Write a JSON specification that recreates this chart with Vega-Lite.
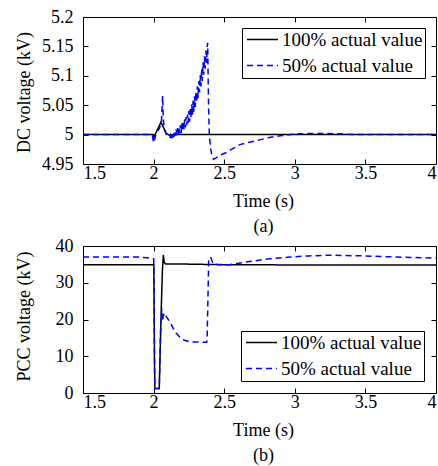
{
  "$schema": "https://vega.github.io/schema/vega-lite/v6.json",
  "padding": {"left": 14, "top": 7, "right": 0, "bottom": 0},
  "config": {
    "font": "Liberation Serif",
    "view": {"stroke": "black", "strokeWidth": 1},
    "axis": {
      "labelFont": "Liberation Serif", "labelFontSize": 18, "labelColor": "black",
      "titleFont": "Liberation Serif", "titleFontSize": 18, "titleFontWeight": "normal", "titleColor": "black",
      "grid": false, "domain": false, "tickColor": "black", "tickSize": -5, "tickWidth": 1,
      "labelExpr": "'' + datum.value"
    },
    "legend": {
      "labelFont": "Liberation Serif", "labelFontSize": 19, "labelColor": "black",
      "strokeColor": "black", "fillColor": "white", "padding": 2, "rowPadding": 6,
      "symbolType": "M-3.1,0H3.1", "symbolSize": 100, "symbolStrokeWidth": 1.5,
      "symbolOffset": 9, "labelOffset": 10, "cornerRadius": 0
    },
    "concat": {"spacing": 0}
  },
  "datasets": {
    "dc": [
      {"t": 1.5, "v": 5.0, "s": "100% actual value"},
      {"t": 1.75, "v": 5.0, "s": "100% actual value"},
      {"t": 1.998, "v": 5.0, "s": "100% actual value"},
      {"t": 2.002, "v": 4.995, "s": "100% actual value"},
      {"t": 2.01, "v": 5.0, "s": "100% actual value"},
      {"t": 2.03, "v": 5.01, "s": "100% actual value"},
      {"t": 2.052, "v": 5.021, "s": "100% actual value"},
      {"t": 2.07, "v": 5.012, "s": "100% actual value"},
      {"t": 2.09, "v": 5.002, "s": "100% actual value"},
      {"t": 2.11, "v": 4.999, "s": "100% actual value"},
      {"t": 2.15, "v": 5.0, "s": "100% actual value"},
      {"t": 2.5, "v": 5.0, "s": "100% actual value"},
      {"t": 3.0, "v": 5.0, "s": "100% actual value"},
      {"t": 3.5, "v": 5.0, "s": "100% actual value"},
      {"t": 4.0, "v": 5.0, "s": "100% actual value"},
      {"t": 1.5, "v": 5.0, "s": "50% actual value"},
      {"t": 1.75, "v": 5.0, "s": "50% actual value"},
      {"t": 1.99, "v": 5.0, "s": "50% actual value"},
      {"t": 2.0, "v": 4.986, "s": "50% actual value"},
      {"t": 2.005, "v": 4.99, "s": "50% actual value"},
      {"t": 2.02, "v": 5.003, "s": "50% actual value"},
      {"t": 2.04, "v": 5.01, "s": "50% actual value"},
      {"t": 2.055, "v": 5.02, "s": "50% actual value"},
      {"t": 2.06, "v": 5.045, "s": "50% actual value"},
      {"t": 2.064, "v": 5.066, "s": "50% actual value"},
      {"t": 2.068, "v": 5.03, "s": "50% actual value"},
      {"t": 2.075, "v": 5.01, "s": "50% actual value"},
      {"t": 2.09, "v": 5.0, "s": "50% actual value"},
      {"t": 2.105, "v": 4.995, "s": "50% actual value"},
      {"t": 2.115, "v": 4.995, "s": "50% actual value"},
      {"t": 2.12, "v": 4.999, "s": "50% actual value"},
      {"t": 2.125, "v": 4.994, "s": "50% actual value"},
      {"t": 2.13, "v": 5.001, "s": "50% actual value"},
      {"t": 2.135, "v": 4.994, "s": "50% actual value"},
      {"t": 2.14, "v": 5.003, "s": "50% actual value"},
      {"t": 2.145, "v": 4.996, "s": "50% actual value"},
      {"t": 2.15, "v": 5.005, "s": "50% actual value"},
      {"t": 2.155, "v": 4.998, "s": "50% actual value"},
      {"t": 2.16, "v": 5.009, "s": "50% actual value"},
      {"t": 2.165, "v": 4.998, "s": "50% actual value"},
      {"t": 2.17, "v": 5.011, "s": "50% actual value"},
      {"t": 2.175, "v": 5.0, "s": "50% actual value"},
      {"t": 2.18, "v": 5.013, "s": "50% actual value"},
      {"t": 2.185, "v": 5.002, "s": "50% actual value"},
      {"t": 2.19, "v": 5.016, "s": "50% actual value"},
      {"t": 2.195, "v": 5.003, "s": "50% actual value"},
      {"t": 2.2, "v": 5.019, "s": "50% actual value"},
      {"t": 2.205, "v": 5.006, "s": "50% actual value"},
      {"t": 2.21, "v": 5.022, "s": "50% actual value"},
      {"t": 2.215, "v": 5.009, "s": "50% actual value"},
      {"t": 2.22, "v": 5.026, "s": "50% actual value"},
      {"t": 2.225, "v": 5.012, "s": "50% actual value"},
      {"t": 2.23, "v": 5.03, "s": "50% actual value"},
      {"t": 2.235, "v": 5.016, "s": "50% actual value"},
      {"t": 2.24, "v": 5.034, "s": "50% actual value"},
      {"t": 2.245, "v": 5.02, "s": "50% actual value"},
      {"t": 2.25, "v": 5.04, "s": "50% actual value"},
      {"t": 2.255, "v": 5.022, "s": "50% actual value"},
      {"t": 2.26, "v": 5.045, "s": "50% actual value"},
      {"t": 2.265, "v": 5.028, "s": "50% actual value"},
      {"t": 2.27, "v": 5.051, "s": "50% actual value"},
      {"t": 2.275, "v": 5.034, "s": "50% actual value"},
      {"t": 2.28, "v": 5.058, "s": "50% actual value"},
      {"t": 2.285, "v": 5.039, "s": "50% actual value"},
      {"t": 2.29, "v": 5.065, "s": "50% actual value"},
      {"t": 2.295, "v": 5.047, "s": "50% actual value"},
      {"t": 2.3, "v": 5.073, "s": "50% actual value"},
      {"t": 2.305, "v": 5.055, "s": "50% actual value"},
      {"t": 2.31, "v": 5.082, "s": "50% actual value"},
      {"t": 2.315, "v": 5.062, "s": "50% actual value"},
      {"t": 2.32, "v": 5.091, "s": "50% actual value"},
      {"t": 2.325, "v": 5.072, "s": "50% actual value"},
      {"t": 2.33, "v": 5.101, "s": "50% actual value"},
      {"t": 2.335, "v": 5.082, "s": "50% actual value"},
      {"t": 2.34, "v": 5.112, "s": "50% actual value"},
      {"t": 2.345, "v": 5.091, "s": "50% actual value"},
      {"t": 2.35, "v": 5.123, "s": "50% actual value"},
      {"t": 2.355, "v": 5.102, "s": "50% actual value"},
      {"t": 2.36, "v": 5.133, "s": "50% actual value"},
      {"t": 2.365, "v": 5.112, "s": "50% actual value"},
      {"t": 2.37, "v": 5.143, "s": "50% actual value"},
      {"t": 2.375, "v": 5.122, "s": "50% actual value"},
      {"t": 2.38, "v": 5.15, "s": "50% actual value"},
      {"t": 2.383, "v": 5.156, "s": "50% actual value"},
      {"t": 2.386, "v": 5.1, "s": "50% actual value"},
      {"t": 2.39, "v": 5.04, "s": "50% actual value"},
      {"t": 2.395, "v": 4.997, "s": "50% actual value"},
      {"t": 2.405, "v": 4.975, "s": "50% actual value"},
      {"t": 2.415, "v": 4.962, "s": "50% actual value"},
      {"t": 2.425, "v": 4.958, "s": "50% actual value"},
      {"t": 2.44, "v": 4.96, "s": "50% actual value"},
      {"t": 2.47, "v": 4.965, "s": "50% actual value"},
      {"t": 2.52, "v": 4.97, "s": "50% actual value"},
      {"t": 2.56, "v": 4.976, "s": "50% actual value"},
      {"t": 2.61, "v": 4.983, "s": "50% actual value"},
      {"t": 2.68, "v": 4.987, "s": "50% actual value"},
      {"t": 2.75, "v": 4.991, "s": "50% actual value"},
      {"t": 2.82, "v": 4.995, "s": "50% actual value"},
      {"t": 2.895, "v": 4.998, "s": "50% actual value"},
      {"t": 2.97, "v": 5.0, "s": "50% actual value"},
      {"t": 3.04, "v": 5.0015, "s": "50% actual value"},
      {"t": 3.15, "v": 5.002, "s": "50% actual value"},
      {"t": 3.3, "v": 5.0015, "s": "50% actual value"},
      {"t": 3.45, "v": 5.0, "s": "50% actual value"},
      {"t": 3.7, "v": 5.0, "s": "50% actual value"},
      {"t": 4.0, "v": 5.0, "s": "50% actual value"}
    ],
    "pcc": [
      {"t": 1.5, "v": 34.9, "s": "100% actual value"},
      {"t": 1.8, "v": 34.9, "s": "100% actual value"},
      {"t": 2.002, "v": 34.9, "s": "100% actual value"},
      {"t": 2.006, "v": 10, "s": "100% actual value"},
      {"t": 2.009, "v": 1.2, "s": "100% actual value"},
      {"t": 2.04, "v": 1.2, "s": "100% actual value"},
      {"t": 2.055, "v": 24, "s": "100% actual value"},
      {"t": 2.062, "v": 33, "s": "100% actual value"},
      {"t": 2.069, "v": 37.6, "s": "100% actual value"},
      {"t": 2.075, "v": 35.6, "s": "100% actual value"},
      {"t": 2.085, "v": 35.1, "s": "100% actual value"},
      {"t": 2.2, "v": 35.1, "s": "100% actual value"},
      {"t": 2.5, "v": 34.9, "s": "100% actual value"},
      {"t": 3.0, "v": 34.85, "s": "100% actual value"},
      {"t": 4.0, "v": 34.8, "s": "100% actual value"},
      {"t": 1.5, "v": 37.0, "s": "50% actual value"},
      {"t": 1.9, "v": 37.0, "s": "50% actual value"},
      {"t": 1.95, "v": 36.8, "s": "50% actual value"},
      {"t": 1.995, "v": 36.6, "s": "50% actual value"},
      {"t": 2.001, "v": 36.5, "s": "50% actual value"},
      {"t": 2.003, "v": 25, "s": "50% actual value"},
      {"t": 2.008, "v": 1.2, "s": "50% actual value"},
      {"t": 2.04, "v": 1.2, "s": "50% actual value"},
      {"t": 2.05, "v": 18, "s": "50% actual value"},
      {"t": 2.058, "v": 23, "s": "50% actual value"},
      {"t": 2.062, "v": 19.5, "s": "50% actual value"},
      {"t": 2.066, "v": 20.5, "s": "50% actual value"},
      {"t": 2.075, "v": 21.8, "s": "50% actual value"},
      {"t": 2.09, "v": 20.8, "s": "50% actual value"},
      {"t": 2.116, "v": 19.3, "s": "50% actual value"},
      {"t": 2.152, "v": 16.6, "s": "50% actual value"},
      {"t": 2.2, "v": 14.6, "s": "50% actual value"},
      {"t": 2.258, "v": 13.9, "s": "50% actual value"},
      {"t": 2.376, "v": 13.8, "s": "50% actual value"},
      {"t": 2.379, "v": 14.5, "s": "50% actual value"},
      {"t": 2.39, "v": 36.0, "s": "50% actual value"},
      {"t": 2.404, "v": 37.0, "s": "50% actual value"},
      {"t": 2.415, "v": 35.8, "s": "50% actual value"},
      {"t": 2.43, "v": 35.0, "s": "50% actual value"},
      {"t": 2.54, "v": 34.9, "s": "50% actual value"},
      {"t": 2.6, "v": 35.3, "s": "50% actual value"},
      {"t": 2.68, "v": 35.8, "s": "50% actual value"},
      {"t": 2.82, "v": 36.5, "s": "50% actual value"},
      {"t": 2.966, "v": 37.0, "s": "50% actual value"},
      {"t": 3.1, "v": 37.3, "s": "50% actual value"},
      {"t": 3.25, "v": 37.5, "s": "50% actual value"},
      {"t": 3.49, "v": 37.3, "s": "50% actual value"},
      {"t": 3.72, "v": 37.0, "s": "50% actual value"},
      {"t": 4.0, "v": 36.7, "s": "50% actual value"}
    ]
  },
  "vconcat": [
    {
      "width": 353, "height": 147,
      "resolve": {"axis": {"x": "independent", "y": "independent"}},
      "layer": [
        {
          "data": {"name": "dc"},
          "mark": {"type": "line", "strokeWidth": 1.5},
          "encoding": {
            "x": {"field": "t", "type": "quantitative",
              "scale": {"domain": [1.5, 4], "nice": false, "zero": false},
              "axis": {"values": [1.5, 2, 2.5, 3, 3.5, 4], "labelPadding": 5,
                "title": ["Time (s)", "(a)"], "titleX": 180, "titleY": 42, "titleBaseline": "alphabetic", "titleLineHeight": 25}},
            "y": {"field": "v", "type": "quantitative",
              "scale": {"domain": [4.95, 5.2], "nice": false, "zero": false},
              "axis": {"values": [4.95, 5, 5.05, 5.1, 5.15, 5.2], "labelPadding": 15,
                "title": "DC voltage (kV)", "titleX": -54, "titleY": 75, "titleBaseline": "alphabetic", "titleAngle": -90}},
            "color": {"field": "s", "type": "nominal",
              "scale": {"domain": ["100% actual value", "50% actual value"], "range": ["black", "#0000ff"]},
              "legend": {"title": null, "orient": "top-right", "offset": 11}},
            "strokeDash": {"field": "s", "type": "nominal",
              "scale": {"domain": ["100% actual value", "50% actual value"], "range": [[1, 0], [6, 4]]},
              "legend": {"title": null, "orient": "top-right", "offset": 11}}
          }
        },
        {
          "mark": {"type": "rule", "color": "black", "strokeDash": [8, 4], "strokeWidth": 1.2},
          "encoding": {
            "x": {"datum": 2, "type": "quantitative",
              "axis": {"orient": "top", "labels": false, "title": null, "values": [1.5, 2, 2.5, 3, 3.5, 4]}},
            "y": {"datum": 5.2, "type": "quantitative",
              "axis": {"orient": "right", "labels": false, "title": null, "values": [4.95, 5, 5.05, 5.1, 5.15, 5.2]}},
            "y2": {"datum": 4.95}
          }
        }
      ]
    },
    {
      "width": 353, "height": 147,
      "resolve": {"axis": {"x": "independent", "y": "independent"}},
      "layer": [
        {
          "data": {"name": "pcc"},
          "mark": {"type": "line", "strokeWidth": 1.5},
          "encoding": {
            "x": {"field": "t", "type": "quantitative",
              "scale": {"domain": [1.5, 4], "nice": false, "zero": false},
              "axis": {"values": [1.5, 2, 2.5, 3, 3.5, 4], "labelPadding": 5,
                "title": ["Time (s)", "(b)"], "titleX": 180, "titleY": 42, "titleBaseline": "alphabetic", "titleLineHeight": 25}},
            "y": {"field": "v", "type": "quantitative",
              "scale": {"domain": [0, 40], "nice": false},
              "axis": {"values": [0, 10, 20, 30, 40], "labelPadding": 15,
                "title": "PCC voltage (kV)", "titleX": -54, "titleY": 70, "titleBaseline": "alphabetic", "titleAngle": -90}},
            "color": {"field": "s", "type": "nominal",
              "scale": {"domain": ["100% actual value", "50% actual value"], "range": ["black", "#0000ff"]},
              "legend": {"title": null, "orient": "bottom-right", "offset": 12}},
            "strokeDash": {"field": "s", "type": "nominal",
              "scale": {"domain": ["100% actual value", "50% actual value"], "range": [[1, 0], [6, 4]]},
              "legend": {"title": null, "orient": "bottom-right", "offset": 12}}
          }
        },
        {
          "mark": {"type": "rule", "color": "black", "strokeDash": [8, 4], "strokeWidth": 1.2},
          "encoding": {
            "x": {"datum": 2, "type": "quantitative",
              "axis": {"orient": "top", "labels": false, "title": null, "values": [1.5, 2, 2.5, 3, 3.5, 4]}},
            "y": {"datum": 40, "type": "quantitative",
              "axis": {"orient": "right", "labels": false, "title": null, "values": [0, 10, 20, 30, 40]}},
            "y2": {"datum": 0}
          }
        }
      ]
    }
  ]
}
